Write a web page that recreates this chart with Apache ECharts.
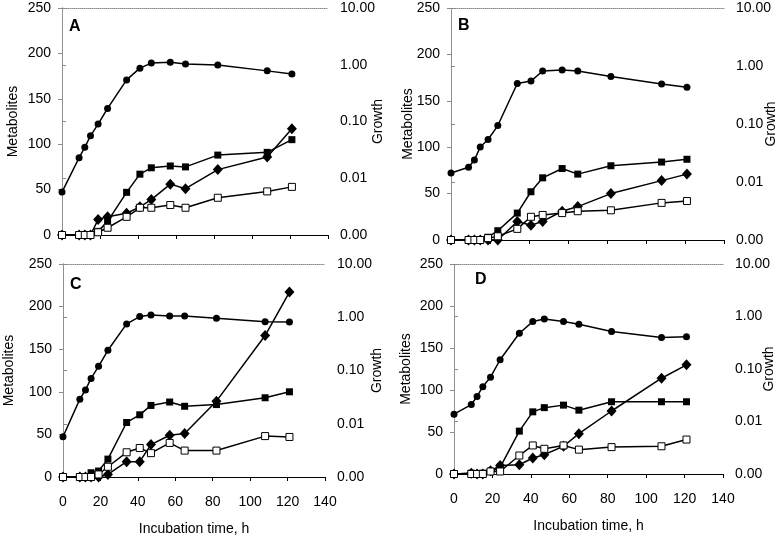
<!DOCTYPE html>
<html>
<head>
<meta charset="utf-8">
<script src="https://cdn.jsdelivr.net/npm/echarts@6/dist/echarts.min.js"></script>
<style>
html,body{margin:0;padding:0;background:#fff;}
#chart{width:779px;height:537px;}
</style>
</head>
<body>
<div id="chart"></div>
<script>
// Incubation time, h
const time = [0, 9, 12, 15, 19, 24, 34, 41, 47, 57, 65, 82, 108, 121];

// Panel A
const growthA  = [0.0057, 0.023, 0.035, 0.056, 0.090, 0.17, 0.54, 0.87, 1.07, 1.11, 1.03, 0.99, 0.78, 0.69];
const filledA  = [0, 0, 0, 0, 4, 15, 47, 67, 74, 76, 75, 88, 91, 105];
const diamondA = [0, 0, 0, 0, 17, 20, 24, 31, 39, 56, 51, 72, 86, 117];
const openA    = [0, 0, 0, 0, 3, 8, 20, 30, 30, 33, 30, 41, 48, 53];

// Panel B
const growthB  = [0.0143, 0.018, 0.024, 0.040, 0.054, 0.094, 0.50, 0.55, 0.82, 0.85, 0.82, 0.66, 0.49, 0.43];
const filledB  = [0, 0, 0, 0, 3, 10, 29, 52, 67, 77, 71, 80, 84, 87];
const diamondB = [0, 0, 0, 0, 0, 0, 20, 16, 20, 31, 36, 50, 64, 71];
const openB    = [0, 0, 0, 0, 2, 4, 12, 25, 27, 29, 31, 32, 40, 42];

// Panel C
const growthC  = [0.0057, 0.029, 0.043, 0.071, 0.12, 0.24, 0.75, 1.03, 1.10, 1.06, 1.06, 0.96, 0.82, 0.81];
const filledC  = [0, 0, 0, 5, 7, 21, 64, 73, 84, 88, 83, 85, 93, 100];
const diamondC = [0, 0, 0, 0, 0, 3, 18, 18, 38, 49, 51, 89, 166, 217];
const openC    = [0, 0, 0, 0, 3, 12, 29, 34, 28, 40, 31, 31, 48, 47];

// Panel D
const growthD  = [0.0138, 0.021, 0.030, 0.046, 0.070, 0.15, 0.48, 0.80, 0.90, 0.80, 0.71, 0.52, 0.40, 0.41];
const filledD  = [0, 1, 0, 1, 3, 8, 51, 74, 79, 82, 76, 86, 86, 86];
const diamondD = [0, 1, 0, 0, 4, 10, 11, 19, 23, 33, 48, 75, 114, 130];
const openD    = [0, 0, 0, 0, 3, 3, 22, 34, 30, 34, 29, 32, 33, 41];

const panelLetters = ['A', 'B', 'C', 'D'];
const xTicks = { min: 0, max: 140, interval: 20 };
const metTicks = { min: 0, max: 250, interval: 50 };
const growthRange = { min: 0.001, max: 10 };

const panels = [
  { g: growthA, f: filledA, d: diamondA, o: openA },
  { g: growthB, f: filledB, d: diamondB, o: openB },
  { g: growthC, f: filledC, d: diamondC, o: openC },
  { g: growthD, f: filledD, d: diamondD, o: openD }
];

const layout = [
  { left: 62, top: 8, width: 266, height: 227, letter: [69, 19], mGap: 42, gGap: 43, xLab: false },
  { left: 451, top: 8, width: 273, height: 232, letter: [458, 18], mGap: 36, gGap: 40, xLab: false },
  { left: 63, top: 264, width: 262, height: 217, letter: [70, 277], mGap: 47, gGap: 45, xLab: true },
  { left: 454, top: 264, width: 269, height: 210, letter: [475, 272], mGap: 41, gGap: 39, xLab: true }
];

const FONT = 'Liberation Sans, Arial, sans-serif';
const grayLine = { color: '#8a8a8a', type: 'dotted', width: 1 };

const grids = [], xAxes = [], yAxes = [], series = [], titles = [];
layout.forEach((L, i) => {
  grids.push({ left: L.left, top: L.top, width: L.width, height: L.height, containLabel: false });
  titles.push({ text: panelLetters[i], left: L.letter[0], top: L.letter[1], padding: 0,
    textStyle: { fontSize: 16, fontWeight: 'bold', fontFamily: FONT, color: '#000' } });
  xAxes.push({
    type: 'value', gridIndex: i, position: 'bottom', min: xTicks.min, max: xTicks.max, interval: xTicks.interval,
    axisLine: { show: true, onZero: false, lineStyle: { color: '#000', width: 1.2 } },
    axisTick: { show: true, inside: false, length: 4, lineStyle: { color: '#000' } },
    axisLabel: { show: L.xLab, color: '#000', fontSize: 14, fontFamily: FONT, margin: 18 },
    splitLine: { show: false },
    name: L.xLab ? 'Incubation time, h' : '', nameLocation: 'middle', nameGap: 45, nameMoveOverlap: false,
    nameTextStyle: { fontSize: 14, fontFamily: FONT, color: '#000' }
  });
  yAxes.push({
    type: 'value', gridIndex: i, position: 'left', min: metTicks.min, max: metTicks.max, interval: metTicks.interval,
    axisLine: { show: true, lineStyle: grayLine },
    axisTick: { show: true, inside: false, length: 4, lineStyle: { color: '#8a8a8a' } },
    axisLabel: { color: '#000', fontSize: 14, fontFamily: FONT, margin: 11 },
    splitLine: { show: false },
    name: 'Metabolites', nameLocation: 'middle', nameGap: L.mGap, nameRotate: 90, nameMoveOverlap: false,
    nameTextStyle: { fontSize: 14, fontFamily: FONT, color: '#000' }
  });
  yAxes.push({
    type: 'log', logBase: 10, gridIndex: i, position: 'right', min: growthRange.min, max: growthRange.max,
    axisLine: { show: true, lineStyle: grayLine },
    axisTick: { show: true, inside: false, length: 4, lineStyle: { color: '#8a8a8a' } },
    axisLabel: { color: '#000', fontSize: 14, fontFamily: FONT, margin: 12,
      formatter: v => Number(v).toFixed(2) },
    splitLine: { show: false }, minorTick: { show: false },
    name: 'Growth', nameLocation: 'middle', nameGap: L.gGap, nameRotate: 90, nameMoveOverlap: false,
    nameTextStyle: { fontSize: 14, fontFamily: FONT, color: '#000' }
  });
});
// top borders
layout.forEach((L, i) => {
  xAxes.push({
    type: 'value', gridIndex: i, position: 'top', min: 0, max: 140,
    axisLine: { show: true, onZero: false, lineStyle: grayLine },
    axisTick: { show: false }, axisLabel: { show: false }, splitLine: { show: false }
  });
});

const pairs = arr => time.map((t, k) => [t, arr[k]]);
const lineSty = { color: '#000', width: 1.5 };
panels.forEach((P, i) => {
  series.push({ type: 'line', xAxisIndex: i, yAxisIndex: 2 * i, data: pairs(P.f),
    symbol: 'rect', symbolSize: 7, lineStyle: lineSty, itemStyle: { color: '#000' }, z: 3 });
  series.push({ type: 'line', xAxisIndex: i, yAxisIndex: 2 * i, data: pairs(P.d),
    symbol: 'diamond', symbolSize: [10, 11], lineStyle: lineSty, itemStyle: { color: '#000' }, z: 4 });
  series.push({ type: 'line', xAxisIndex: i, yAxisIndex: 2 * i, data: pairs(P.o),
    symbol: 'rect', symbolSize: 7, lineStyle: lineSty,
    itemStyle: { color: '#fff', borderColor: '#000', borderWidth: 1 }, z: 5 });
  series.push({ type: 'line', xAxisIndex: i, yAxisIndex: 2 * i + 1, data: pairs(P.g),
    symbol: 'circle', symbolSize: 7, lineStyle: lineSty, itemStyle: { color: '#000' }, z: 6 });
});
series.forEach(s => { s.showAllSymbol = true; s.animation = false; s.silent = true; });

const chart = echarts.init(document.getElementById('chart'), null, { renderer: 'canvas' });
chart.setOption({
  animation: false,
  backgroundColor: '#fff',
  title: titles,
  grid: grids,
  xAxis: xAxes,
  yAxis: yAxes,
  series: series
});
</script>
</body>
</html>
